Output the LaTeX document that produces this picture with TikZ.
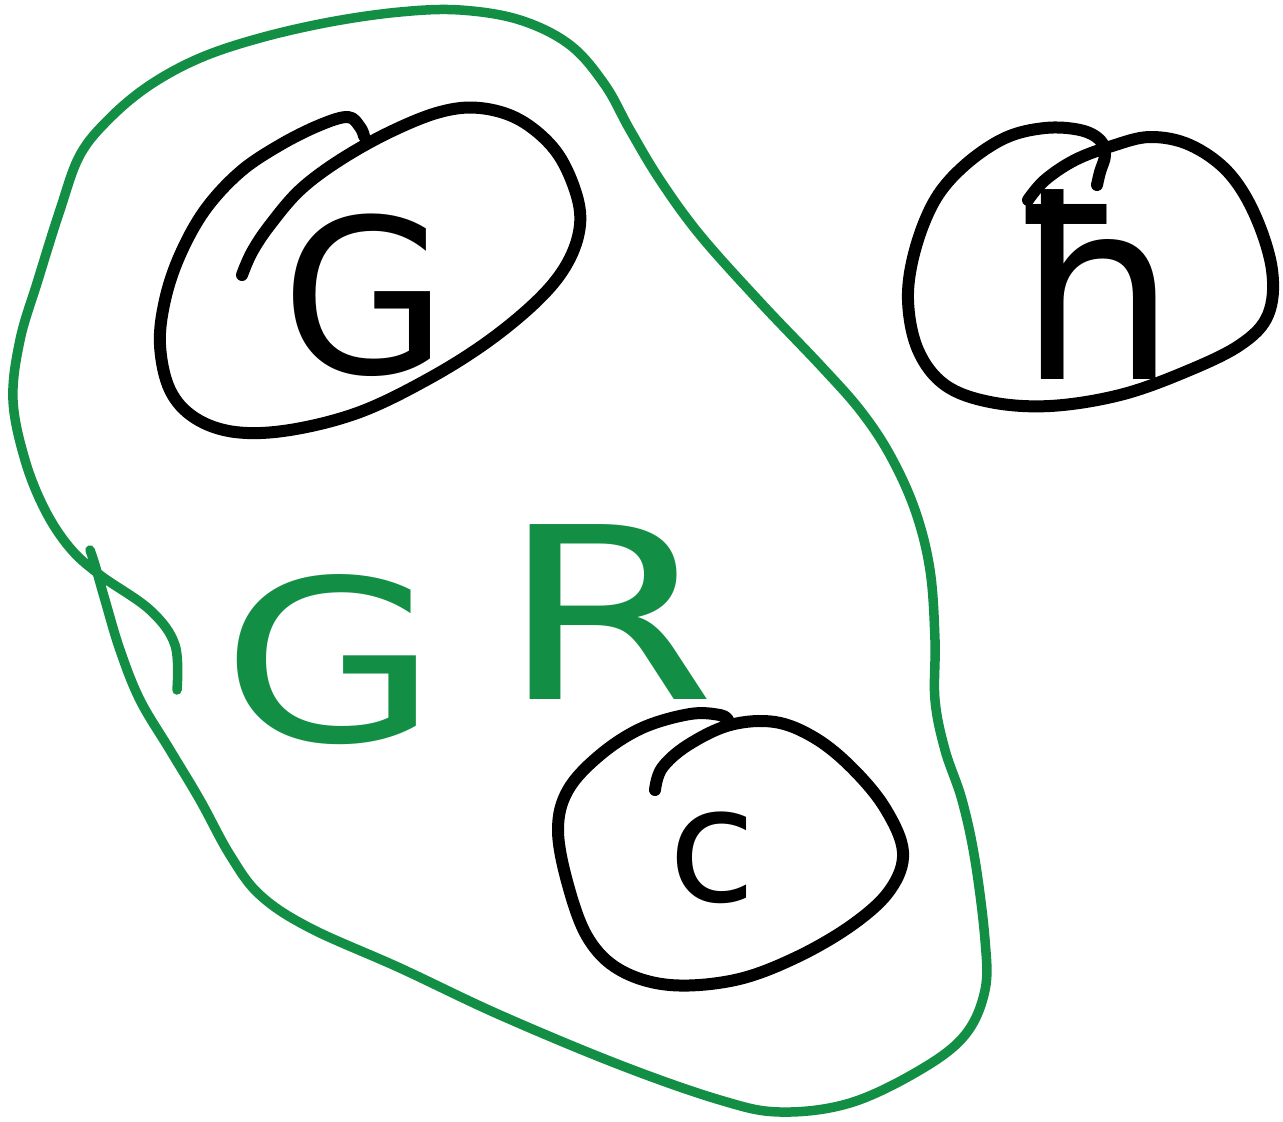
\documentclass[tikz,border=0pt]{standalone}
\usepackage{fontspec}
\newfontfamily\sketchfont{DejaVu Sans}
\definecolor{sketchgreen}{HTML}{138F45}
\tikzset{
  inkblack/.style={draw=black, line width=12pt, line cap=round, line join=round},
  inkgreen/.style={draw=sketchgreen, line width=9.5pt, line cap=round, line join=round},
  lettertext/.style={inner sep=0pt}
}
\begin{document}
\begin{tikzpicture}[x=1pt,y=-1pt]
\useasboundingbox (0,0) rectangle (1283,1122);
% green outer region
\draw[inkgreen] plot[smooth, tension=0.6] coordinates {
 (177,690) (175,645) (150,610) (100,575) (70,548) (45,510) (25,460) (13,400)
 (20,340) (38,280) (60,210) (80,155) (110,118) (150,85) (200,58) (260,38)
 (330,22) (400,12) (460,10) (520,20) (570,45) (605,85) (630,130) (660,180)
 (700,235) (760,302) (820,365) (860,410) (890,455) (915,510) (930,570)
 (935,640) (935,700) (945,750) (962,800) (975,860) (985,940) (985,990)
 (965,1035) (920,1070) (850,1103) (780,1112) (720,1100) (620,1065)
 (500,1015) (400,968) (310,928) (260,895) (230,855) (200,800) (170,750)
 (140,700) (120,650) (105,600) (95,565) (90,550)};
% black blob G
\draw[inkblack] plot[smooth, tension=0.6] coordinates {
 (242,275) (252,252) (270,225) (300,190) (340,160) (390,132) (440,112)
 (480,108) (520,120) (555,150) (575,190) (580,225) (568,262) (540,298)
 (490,340) (430,378) (360,412) (290,430) (235,432) (195,418) (170,390)
 (160,345) (165,300) (180,255) (205,210) (240,172) (280,145) (320,125)
 (348,117) (360,127) (364,136)};
% black blob c
\draw[inkblack] plot[smooth, tension=0.6] coordinates {
 (655,790) (662,768) (688,745) (730,725) (775,722) (815,738) (852,768)
 (885,808) (903,852) (890,890) (852,925) (795,958) (735,980) (670,985)
 (620,970) (588,938) (568,885) (558,830) (568,790) (600,755) (642,728)
 (690,714) (720,715) (728,720)};
% black blob hbar
\draw[inkblack] plot[smooth, tension=0.6] coordinates {
 (1028,200) (1045,180) (1075,160) (1112,146) (1150,137) (1190,145)
 (1228,172) (1255,215) (1272,270) (1268,315) (1240,345) (1185,372)
 (1120,395) (1050,406) (990,402) (945,385) (918,350) (908,300) (915,250)
 (935,200) (965,165) (1005,138) (1045,128) (1080,130) (1100,140)
 (1105,155) (1100,172) (1097,185)};
% letters
\node[lettertext, text=black, font=\sketchfont\fontsize{215}{215}\selectfont] (lG) at (365,295) {G};
\node[lettertext, text=black, font=\sketchfont\fontsize{160}{160}\selectfont] (lc) at (712,858) {c};
\node[lettertext, text=black, font=\sketchfont\fontsize{250}{250}\selectfont] (lh) at (1098,285) {ħ};
\node[lettertext, text=sketchgreen, font=\sketchfont\fontsize{225}{225}\selectfont, xscale=1.25] (gG) at (330,660) {G};
\node[lettertext, text=sketchgreen, font=\sketchfont\fontsize{240}{240}\selectfont, xscale=1.3] (gR) at (608,612) {R};
\end{tikzpicture}
\end{document}
